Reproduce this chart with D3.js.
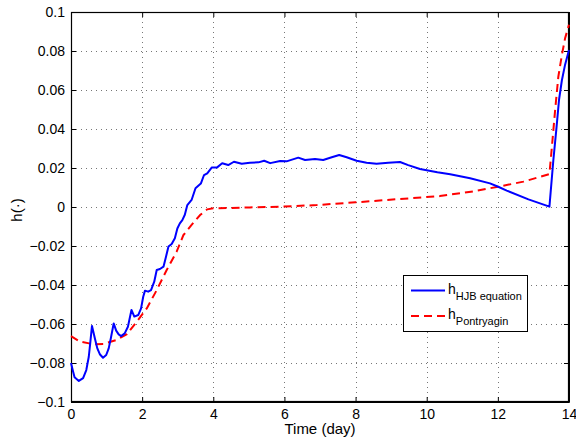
<!DOCTYPE html>
<html lang="en">
  <head>
    <meta charset="utf-8">
    <title>h(t)</title>
    <style>
      body { margin: 0; background: white; }
      text { font-family: "Liberation Sans", Arial, sans-serif; fill: black; }
    </style>
  </head>
  <body>
    <svg id="chart" width="576" height="442"></svg>
  </body>
  <script src="https://d3js.org/d3.v7.min.js"></script>
  <script>
    // values
    let hjbTime = [0, 0.06, 0.1, 0.22, 0.34, 0.43, 0.5, 0.54, 0.59, 0.67, 0.74, 0.81, 0.9, 0.99, 1.06, 1.12, 1.2, 1.27, 1.34, 1.41, 1.51, 1.6, 1.7, 1.78, 1.89, 1.97, 2.03, 2.08, 2.17, 2.25, 2.34, 2.41, 2.5, 2.6, 2.66, 2.74, 2.83, 2.92, 2.99, 3.06, 3.13, 3.2, 3.27, 3.39, 3.5, 3.65, 3.74, 3.83, 3.96, 4.1, 4.25, 4.42, 4.58, 4.8, 5.03, 5.27, 5.43, 5.6, 5.88, 6.06, 6.39, 6.58, 6.86, 7.09, 7.33, 7.54, 7.75, 8.03, 8.31, 8.59, 8.92, 9.25, 9.48, 9.81, 10.3, 10.66, 11.22, 11.78, 12.01, 12.25, 12.86, 13.45, 13.56, 13.65, 13.72, 13.8, 13.89, 14]
    let hjbValue = [-0.080, -0.0845, -0.0873, -0.0892, -0.0878, -0.0836, -0.0768, -0.0699, -0.061, -0.0673, -0.0725, -0.0755, -0.0773, -0.0759, -0.0725, -0.0673, -0.0597, -0.0634, -0.0653, -0.0662, -0.0648, -0.0614, -0.0528, -0.0562, -0.0554, -0.052, -0.046, -0.0429, -0.0434, -0.0426, -0.0383, -0.0323, -0.0318, -0.0306, -0.0263, -0.0203, -0.019, -0.016, -0.011, -0.0084, -0.0067, -0.004, 0.001, 0.0036, 0.0096, 0.012, 0.0164, 0.0173, 0.0203, 0.0202, 0.0224, 0.0215, 0.0232, 0.0222, 0.0227, 0.0229, 0.0237, 0.0225, 0.0236, 0.0234, 0.0253, 0.0241, 0.0246, 0.0241, 0.0255, 0.0267, 0.0255, 0.0237, 0.0227, 0.0222, 0.0227, 0.0231, 0.0215, 0.0195, 0.0178, 0.0168, 0.0147, 0.0121, 0.0104, 0.0084, 0.0039, 0.0002, 0.024, 0.041, 0.055, 0.065, 0.073, 0.0805]

    let pontTime = [0, 0.25, 0.63, 0.91, 1.28, 1.57, 1.85, 2.13, 2.41, 2.69, 2.97, 3.16, 3.39, 3.63, 3.83, 4.0, 4.47, 5.03, 5.97, 6.91, 8.0, 9.25, 10.37, 11.3, 12.01, 12.72, 13.45, 13.51, 13.61, 13.7, 13.8, 13.89, 14]
    let pontValue = [-0.0662, -0.069, -0.0704, -0.0702, -0.0682, -0.0652, -0.0588, -0.052, -0.0426, -0.0323, -0.0229, -0.0144, -0.0092, -0.0041, -0.0012, -0.0007, -0.0005, -0.0002, 0.0002, 0.001, 0.0024, 0.0041, 0.0056, 0.008, 0.0104, 0.013, 0.0169, 0.029, 0.0497, 0.0668, 0.078, 0.0865, 0.0935]

    let xTicks = [0, 2, 4, 6, 8, 10, 12, 14]
    let yTicks = [-0.1, -0.08, -0.06, -0.04, -0.02, 0, 0.02, 0.04, 0.06, 0.08, 0.1]
    let yTickLabels = ["\u22120.1", "\u22120.08", "\u22120.06", "\u22120.04", "\u22120.02", "0", "0.02", "0.04", "0.06", "0.08", "0.1"]

    let svg = d3.select("#chart")
    let mLeft = 71, mRight = 569, mTop = 12, mBottom = 402

    let x = d3.scaleLinear().domain([0, 14]).range([mLeft, mRight])
    let y = d3.scaleLinear().domain([-0.1, 0.1]).range([mBottom, mTop])

    // dotted grid
    let grid = svg.append("g").attr("stroke", "#777").attr("stroke-width", 1).attr("stroke-dasharray", "1,4")
    grid.selectAll(".gx").data(xTicks.slice(1, -1)).enter().append("line")
      .attr("x1", d => Math.round(x(d)) + 0.5).attr("x2", d => Math.round(x(d)) + 0.5)
      .attr("y1", mTop).attr("y2", mBottom)
    grid.selectAll(".gy").data(yTicks.slice(1, -1)).enter().append("line")
      .attr("y1", d => Math.round(y(d)) + 0.5).attr("y2", d => Math.round(y(d)) + 0.5)
      .attr("x1", mLeft).attr("x2", mRight)

    // axes, ticks pointing inside like matlab
    let xAxis = d3.axisBottom(x).tickValues(xTicks).tickSizeInner(-5).tickSizeOuter(0).tickPadding(7)
    let yAxis = d3.axisLeft(y).tickValues(yTicks).tickSizeInner(-5).tickSizeOuter(0).tickPadding(6)
      .tickFormat((d, i) => yTickLabels[i])
    let xTop = d3.axisTop(x).tickValues(xTicks).tickSizeInner(-5).tickSizeOuter(0).tickFormat("")
    let yRight = d3.axisRight(y).tickValues(yTicks).tickSizeInner(-5).tickSizeOuter(0).tickFormat("")

    svg.append("g").attr("transform", `translate(0,${mBottom})`).call(xAxis)
    svg.append("g").attr("transform", `translate(${mLeft},0)`).call(yAxis)
    svg.append("g").attr("transform", `translate(0,${mTop})`).call(xTop)
    svg.append("g").attr("transform", `translate(${mRight},0)`).call(yRight)

    svg.selectAll(".tick text").style("font-size", "14px").style("font-family", '"Liberation Sans", Arial, sans-serif')
    svg.selectAll(".domain, .tick line").attr("stroke", "black")

    svg.append("rect").attr("x", mLeft + 0.5).attr("y", mTop + 0.5)
      .attr("width", mRight - mLeft - 1).attr("height", mBottom - mTop - 1)
      .attr("fill", "none").attr("stroke", "black").attr("stroke-width", 1.2)

    // curves
    let line = d3.line().x(d => x(d[0])).y(d => y(d[1]))
    let hjb = hjbTime.map((t, i) => [t, hjbValue[i]])
    let pont = pontTime.map((t, i) => [t, pontValue[i]])

    svg.append("path").datum(pont).attr("d", line)
      .attr("fill", "none").attr("stroke", "#ff0000").attr("stroke-width", 2).attr("stroke-dasharray", "8,5")
    svg.append("path").datum(hjb).attr("d", line)
      .attr("fill", "none").attr("stroke", "#0000ff").attr("stroke-width", 2).attr("stroke-linejoin", "round")

    // labels
    svg.append("text").attr("x", 320).attr("y", 434).attr("text-anchor", "middle")
      .style("font-size", "15px").text("Time (day)")
    svg.append("text").attr("transform", "translate(22,210) rotate(-90)").attr("text-anchor", "middle")
      .style("font-size", "15px").text("h(\u00b7)")

    // legend
    let legend = svg.append("g")
    legend.append("rect").attr("x", 403.5).attr("y", 275.5).attr("width", 124).attr("height", 56)
      .attr("fill", "white").attr("stroke", "black").attr("stroke-width", 1)
    let items = [
      { color: "#0000ff", dash: null, sub: "HJB equation", y: 290.5 },
      { color: "#ff0000", dash: "8,5", sub: "Pontryagin", y: 316 }
    ]
    items.forEach(it => {
      legend.append("line").attr("x1", 411).attr("x2", 445).attr("y1", it.y).attr("y2", it.y)
        .attr("stroke", it.color).attr("stroke-width", 2).attr("stroke-dasharray", it.dash)
      let t = legend.append("text").attr("x", 448).attr("y", it.y + 3).style("font-size", "14px")
      t.append("tspan").text("h")
      t.append("tspan").attr("dy", 6).style("font-size", "11px").text(it.sub)
    })
  </script>
</html>
